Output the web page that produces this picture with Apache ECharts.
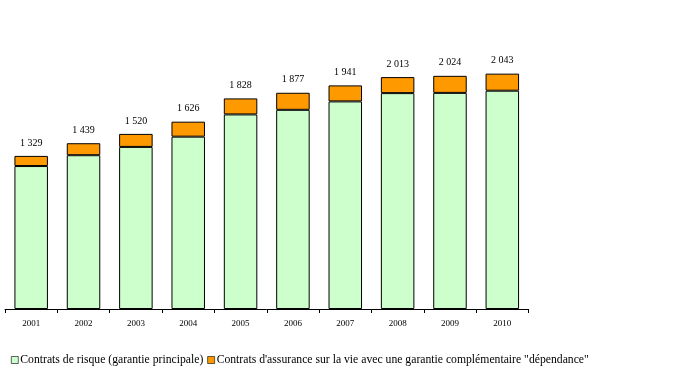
<!DOCTYPE html>
<html><head><meta charset="utf-8">
<script src="https://cdn.jsdelivr.net/npm/echarts@6/dist/echarts.min.js"></script>
<style>html,body{margin:0;padding:0;background:#fff}#c{width:693px;height:372px}</style>
</head><body><div id="c"></div>
<script>
const categories = ['2001','2002','2003','2004','2005','2006','2007','2008','2009','2010'];
const totals = [1329, 1439, 1520, 1626, 1828, 1877, 1941, 2013, 2024, 2043];
const dependance = [88, 104, 113, 130, 139, 148, 139, 139, 148, 148];
const risque = totals.map((t, i) => t - dependance[i]);
const seriesNames = ['Contrats de risque (garantie principale)', 'Contrats d\'assurance sur la vie avec une garantie complémentaire "dépendance"'];

function fmt(v){ return String(v).replace(/\B(?=(\d{3})+(?!\d))/g, ' '); }

const chart = echarts.init(document.getElementById('c'));
chart.setOption({
  animation: false,
  textStyle: { fontFamily: 'Liberation Serif' },
  grid: { left: 5, right: 164.5, top: 21, bottom: 63, containLabel: false },
  legend: {
    left: 6, top: 349, itemWidth: 7, itemHeight: 7, itemGap: 4,
    textStyle: { fontFamily: 'Liberation Serif', fontSize: 11.7, color: '#000', padding: [0,0,0,-3] },
    data: [
      { name: seriesNames[0], icon: 'rect', itemStyle: { color: '#CCFFCC', borderColor: '#000', borderWidth: 0.6 } },
      { name: seriesNames[1], icon: 'rect', itemStyle: { color: '#FF9900', borderColor: '#000', borderWidth: 0.6 } }
    ]
  },
  xAxis: {
    type: 'category', data: categories,
    axisLine: { lineStyle: { color: '#000', width: 1 } },
    axisTick: { show: true, length: 4, lineStyle: { color: '#000' } },
    axisLabel: { color: '#000', fontSize: 9, fontFamily: 'Liberation Serif', margin: 10 }
  },
  yAxis: { type: 'value', min: 0, max: 2500, show: false, splitLine: { show: false } },
  series: [
    {
      name: seriesNames[0], type: 'bar', stack: 's', data: risque, barCategoryGap: '36%',
      itemStyle: { color: '#CCFFCC', borderColor: '#000', borderWidth: 1 }
    },
    {
      name: seriesNames[1], type: 'bar', stack: 's', data: dependance,
      itemStyle: { color: '#FF9900', borderColor: '#000', borderWidth: 1 },
      label: {
        show: true, position: 'top', distance: 8, fontSize: 10, color: '#000',
        fontFamily: 'Liberation Serif',
        formatter: p => fmt(totals[p.dataIndex])
      }
    }
  ]
});
</script></body></html>
